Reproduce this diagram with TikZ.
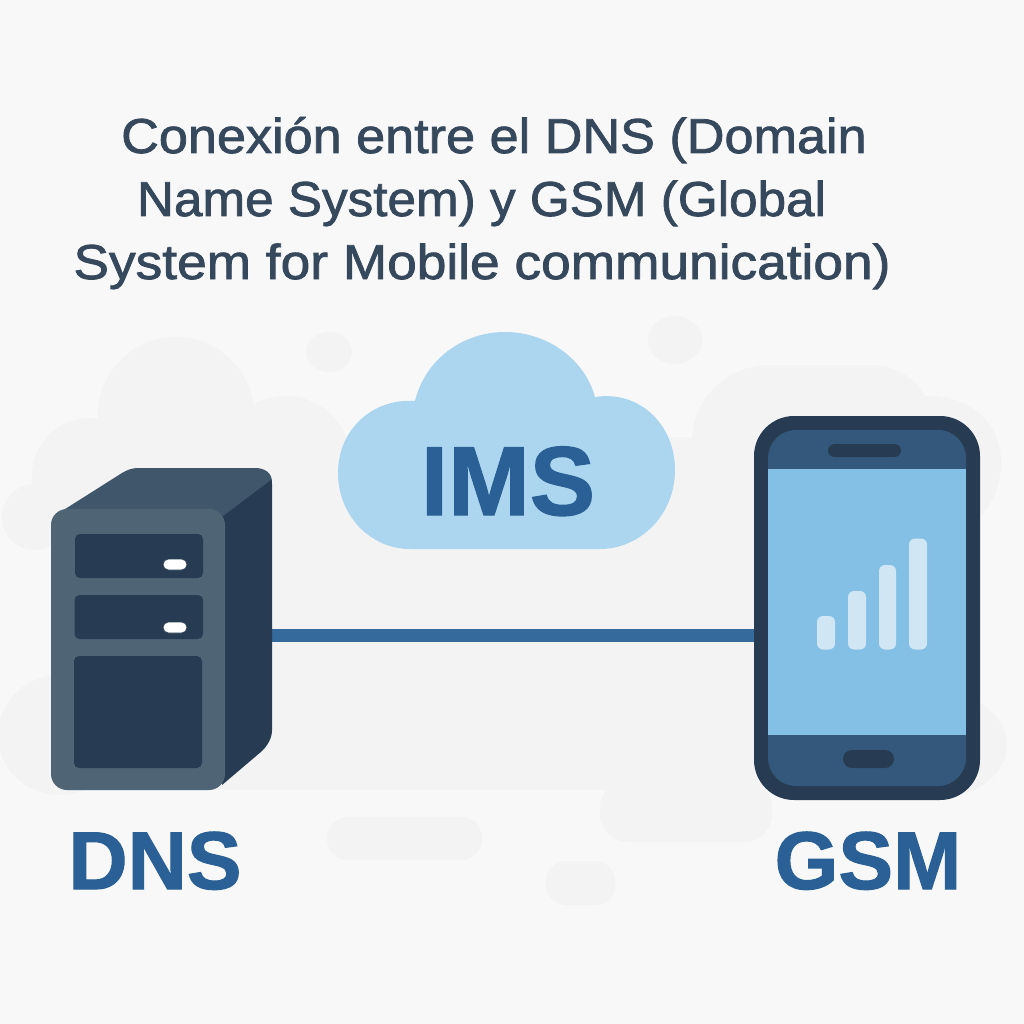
\documentclass[tikz,border=0pt]{standalone}
\usepackage{fontspec}
\setmainfont{Liberation Sans}
\newfontfamily\titlefont[FakeBold=1.6,FakeStretch=1.087]{Liberation Sans}
\newfontfamily\labelfont[FakeBold=1.3]{Liberation Sans Bold}
\definecolor{bgc}{HTML}{F8F8F8}
\definecolor{blob}{HTML}{F3F3F3}
\definecolor{frontc}{HTML}{4F6475}
\definecolor{topc}{HTML}{3F566B}
\definecolor{darkc}{HTML}{273C52}
\definecolor{cloudc}{HTML}{ACD6EF}
\definecolor{labelc}{HTML}{2A6095}
\definecolor{linkc}{HTML}{346A9C}
\definecolor{bezel}{HTML}{34587B}
\definecolor{screenc}{HTML}{84C0E5}
\definecolor{barc}{HTML}{D0E6F4}
\definecolor{titlec}{HTML}{36485C}
\tikzset{
  x=1pt,y=-1pt,
  blobfill/.style={fill=blob,draw=none},
  titletext/.style={text=titlec,inner sep=0pt,anchor=base,font=\titlefont\fontsize{49}{52}\selectfont},
  biglabel/.style={text=labelc,inner sep=0pt,anchor=base,font=\labelfont\fontsize{82}{90}\selectfont},
  devicebox/.style={inner sep=0pt,outer sep=0pt,minimum width=#1},
  bar/.style={fill=barc,draw=none,rounded corners=6pt},
  drawer/.style={fill=darkc,draw=none,rounded corners=5pt},
  led/.style={fill=white,draw=darkc,line width=0.6pt,rounded corners=5.5pt}
}
\begin{document}
\begin{tikzpicture}
\useasboundingbox (0,0) rectangle (1024,1024);
\fill[bgc] (0,0) rectangle (1024,1024);
% background blobs
\fill[blobfill] (329,352) ellipse [x radius=23,y radius=20];
\fill[blobfill] (675,340) ellipse [x radius=27,y radius=24];
\fill[blobfill] (35,517) circle [radius=33];
\fill[blobfill] (90,476) circle [radius=58];
\fill[blobfill] (176,415) circle [radius=78];
\fill[blobfill] (285,462) circle [radius=66];
\fill[blobfill] (60,735) ellipse [x radius=62,y radius=60];
\fill[blobfill] (60,790) rectangle (800,437);
\fill[blobfill] (680,520) -- (680,437) -- (692,437)
  .. controls (695,395) and (730,365) .. (770,365)
  -- (870,365) .. controls (895,365) and (915,378) .. (925,396)
  .. controls (965,394) and (1001,420) .. (1001,462)
  .. controls (1001,490) and (990,510) .. (970,525) -- cycle;
\fill[blobfill] (940,745) ellipse [x radius=67,y radius=52];
\fill[blobfill,rounded corners=28pt] (600,780) rectangle (772,842);
\fill[blobfill,rounded corners=21pt] (327,817) rectangle (482,860);
\fill[blobfill,rounded corners=20pt] (546,861) rectangle (615,905);
% title
\node[titletext,xscale=0.98,transform shape] (t1) at (494,153) {Conexión entre el DNS (Domain};
\node[titletext,xscale=0.962,transform shape] (t2) at (481.5,216) {Name System) y GSM (Global};
\node[titletext] (t3) at (482,279) {System for Mobile communication)};
% cloud
\fill[cloudc] (410,549) .. controls (370,549) and (338,515) .. (338,473)
  .. controls (338,430) and (372,398) .. (415,401)
  .. controls (425,360) and (462,332) .. (505,332)
  .. controls (548,332) and (585,360) .. (595,397)
  .. controls (640,390) and (675,425) .. (675,470)
  .. controls (675,515) and (640,549) .. (600,549) -- cycle;
\node[text=labelc,inner sep=0pt,anchor=base,font=\labelfont\fontsize{98}{100}\selectfont] (ims) at (508,515) {IMS};
% server anchors and phone
\node[devicebox=220pt,minimum height=322pt] (dns) at (162,629) {};
\node[devicebox=226pt,minimum height=384pt,fill=darkc,rounded corners=40pt] (gsm) at (867,608) {};
\coordinate (linky) at (0,635.5);
\draw[linkc,line width=12.5pt] (dns.east |- linky) -- (gsm.west |- linky);
% server
\fill[topc] (62,511) -- (122,473) .. controls (127,470) and (132,468) .. (138,468)
  -- (255,468) .. controls (265,468) and (272,473) .. (272,482) -- (222,520) -- (62,520) -- cycle;
\fill[darkc] (222,517) -- (271,480) .. controls (272,481) and (272,482) .. (272,484)
  -- (272,730) .. controls (272,738) and (268,745) .. (262,751) -- (222,785) -- cycle;
\fill[frontc,rounded corners=16pt] (51,509) rectangle (225,790);
\fill[drawer] (75,534) rectangle (203,578);
\fill[drawer] (74.5,595) rectangle (203,639);
\fill[drawer] (74,656) rectangle (202,768);
\draw[led] (163,559) rectangle (187,570);
\draw[led] (163,622) rectangle (187,633);
% phone
\fill[bezel,rounded corners=28pt] (768,430) rectangle (966,786);
\fill[screenc] (768,468.5) rectangle (966,735);
\fill[darkc,rounded corners=6.5pt] (828,444) rectangle (901,457);
\fill[darkc,rounded corners=9pt] (843,750) rectangle (894,768);
\fill[bar] (817,616) rectangle (835,649.5);
\fill[bar] (848,591) rectangle (866,649.5);
\fill[bar] (879,565) rectangle (896,649.5);
\fill[bar] (909,538.5) rectangle (927,649.5);
% labels
\node[biglabel] (dnsl) at (155,889) {DNS};
\node[biglabel] (gsml) at (868,889) {GSM};
\end{tikzpicture}
\end{document}
